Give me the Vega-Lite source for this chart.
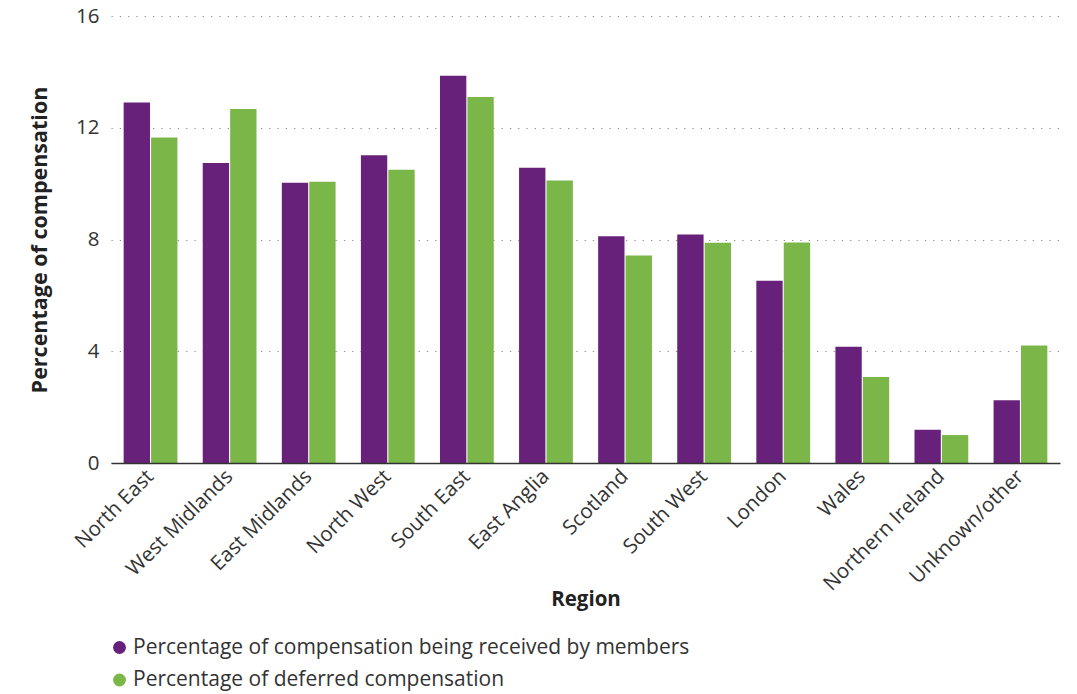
{
  "$schema": "https://vega.github.io/schema/vega-lite/v6.json",
  "width": 949,
  "height": 447,
  "autosize": {"type": "none"},
  "padding": {"left": 111, "top": 16, "right": 17, "bottom": 231},
  "background": "white",
  "config": {
    "font": "Open Sans",
    "view": {"stroke": null}
  },
  "data": {
    "values": [
      {"region": "North East", "series": "Percentage of compensation being received by members", "value": 12.9},
      {"region": "North East", "series": "Percentage of deferred compensation", "value": 11.65},
      {"region": "West Midlands", "series": "Percentage of compensation being received by members", "value": 10.74},
      {"region": "West Midlands", "series": "Percentage of deferred compensation", "value": 12.67},
      {"region": "East Midlands", "series": "Percentage of compensation being received by members", "value": 10.03},
      {"region": "East Midlands", "series": "Percentage of deferred compensation", "value": 10.07},
      {"region": "North West", "series": "Percentage of compensation being received by members", "value": 11.02},
      {"region": "North West", "series": "Percentage of deferred compensation", "value": 10.5},
      {"region": "South East", "series": "Percentage of compensation being received by members", "value": 13.86},
      {"region": "South East", "series": "Percentage of deferred compensation", "value": 13.1},
      {"region": "East Anglia", "series": "Percentage of compensation being received by members", "value": 10.57},
      {"region": "East Anglia", "series": "Percentage of deferred compensation", "value": 10.11},
      {"region": "Scotland", "series": "Percentage of compensation being received by members", "value": 8.12},
      {"region": "Scotland", "series": "Percentage of deferred compensation", "value": 7.43},
      {"region": "South West", "series": "Percentage of compensation being received by members", "value": 8.18},
      {"region": "South West", "series": "Percentage of deferred compensation", "value": 7.88},
      {"region": "London", "series": "Percentage of compensation being received by members", "value": 6.52},
      {"region": "London", "series": "Percentage of deferred compensation", "value": 7.89},
      {"region": "Wales", "series": "Percentage of compensation being received by members", "value": 4.16},
      {"region": "Wales", "series": "Percentage of deferred compensation", "value": 3.08},
      {"region": "Northern Ireland", "series": "Percentage of compensation being received by members", "value": 1.19},
      {"region": "Northern Ireland", "series": "Percentage of deferred compensation", "value": 1.0},
      {"region": "Unknown/other", "series": "Percentage of compensation being received by members", "value": 2.25},
      {"region": "Unknown/other", "series": "Percentage of deferred compensation", "value": 4.21}
    ]
  },
  "mark": {"type": "bar"},
  "encoding": {
    "x": {
      "field": "region",
      "type": "nominal",
      "sort": null,
      "scale": {"paddingInner": 0.32, "paddingOuter": 0.16},
      "axis": {
        "title": "Region",
        "titleFontSize": 20.5,
        "titleFontWeight": "bold",
        "titleColor": "#222222",
        "titleY": 142,
        "titleBaseline": "alphabetic",
        "labelAngle": -45,
        "labelAlign": "right",
        "labelBaseline": "middle",
        "labelFontSize": 20.5,
        "labelColor": "#333333",
        "labelPadding": 10,
        "ticks": false,
        "domainColor": "#333333",
        "domainWidth": 1.5,
        "grid": false,
        "zindex": 1
      }
    },
    "xOffset": {
      "field": "series",
      "type": "nominal",
      "scale": {"paddingInner": 0.04}
    },
    "y": {
      "field": "value",
      "type": "quantitative",
      "scale": {"domain": [0, 16], "nice": false},
      "axis": {
        "title": "Percentage of compensation",
        "titleFontSize": 21.5,
        "titleFontWeight": "bold",
        "titleColor": "#222222",
        "titleAngle": -90,
        "titleX": -71,
        "titleY": 223.5,
        "titleAlign": "center",
        "titleBaseline": "middle",
        "values": [0, 4, 8, 12, 16],
        "labelFontSize": 20.5,
        "labelColor": "#333333",
        "labelPadding": 12,
        "ticks": false,
        "domain": false,
        "grid": true,
        "gridColor": "#888888",
        "gridWidth": 1.2,
        "gridDash": [1.2, 7.1]
      }
    },
    "color": {
      "field": "series",
      "type": "nominal",
      "scale": {
        "domain": ["Percentage of compensation being received by members", "Percentage of deferred compensation"],
        "range": ["#68217a", "#7ab648"]
      },
      "legend": {
        "title": null,
        "orient": "none",
        "legendX": -2,
        "legendY": 621,
        "symbolType": "circle",
        "symbolSize": 165,
        "symbolOpacity": 1,
        "labelFontSize": 21,
        "labelColor": "#333333",
        "labelLimit": 900,
        "rowPadding": 10.5,
        "labelOffset": 3
      }
    }
  }
}
